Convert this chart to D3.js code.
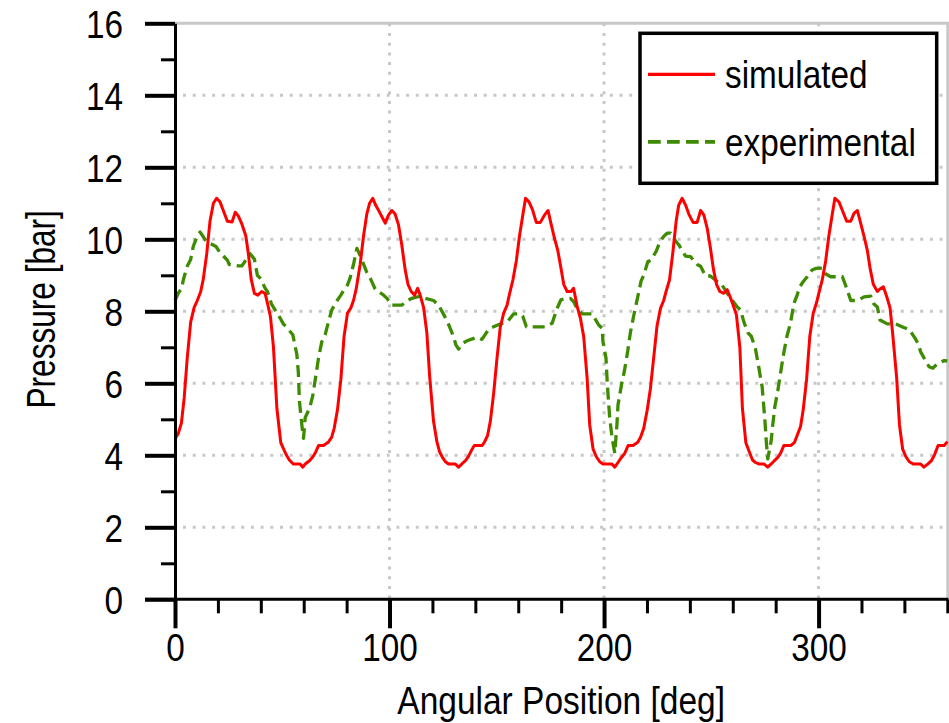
<!DOCTYPE html>
<html>
<head>
<meta charset="utf-8">
<script src="https://cdn.jsdelivr.net/npm/d3@7"></script>
<style>
  html, body { margin: 0; padding: 0; background: #fff; }
  svg { display: block; }
</style>
</head>
<body>
<svg id="chart" width="949" height="723"></svg>
<script>
// Pressure over one revolution: simulated vs. measured, [angle deg, pressure bar]
const simulated = [
  [0,4.45],[1.5,4.6],[3,4.9],[4.3,5.6],[5.7,6.7],[7.3,7.7],[8.9,8.1],[10.4,8.3],[12,8.55],[13.2,8.9],[14.8,9.6],[16.3,10.5],[17.9,11.0],[19.4,11.14],[21,11.04],[22.2,10.85],[24.4,10.5],[26.6,10.48],[28.1,10.75],[29.5,10.65],[31,10.45],[33,10.1],[34.2,9.6],[35.5,8.9],[37,8.5],[38.6,8.45],[40.4,8.55],[42,8.5],[43.2,8.2],[44.5,7.85],[45.9,7.0],[47.5,5.3],[49.3,4.35],[50.8,4.15],[52,4.0],[53.3,3.87],[55.1,3.76],[58.3,3.76],[59.6,3.67],[60.7,3.76],[62.7,3.85],[64.2,3.95],[65.5,4.08],[66.9,4.27],[69.2,4.27],[71.4,4.36],
  [73,4.5],[74.2,4.75],[75.7,5.25],[77.3,6.1],[78.8,7.3],[80.4,7.95],[82,8.1],[83.2,8.3],[84.4,8.6],[86.3,9.3],[87.9,10.1],[89.4,10.7],[90.7,11.0],[92.2,11.14],[93.5,10.95],[95.2,10.77],[96.7,10.6],[98,10.45],[99.5,10.67],[101.1,10.8],[102.6,10.7],[104.2,10.4],[105.7,9.85],[107.3,9.15],[108.6,8.75],[110.1,8.55],[111.7,8.45],[113.1,8.64],[114.3,8.45],[115.9,8.1],[117.4,7.4],[118.7,6.2],[120.5,4.95],[122.1,4.37],[123.3,4.1],[124.9,3.92],[126.1,3.82],[127.5,3.76],[130.6,3.76],[132.2,3.67],[133.7,3.76],[135.4,3.85],[136.8,3.97],[138.3,4.15],[139.5,4.27],[143.1,4.27],[144.2,4.36],
  [145.7,4.55],[147,4.95],[148.5,5.7],[150.1,6.7],[151.6,7.55],[153.2,7.95],[154.8,8.17],[156,8.5],[157.5,8.87],[159.1,9.4],[160.6,10.1],[162.2,10.7],[163.4,11.14],[165,11.04],[166.6,10.83],[168.4,10.47],[170.3,10.47],[172.2,10.67],[173.9,10.8],[175.4,10.4],[176.8,10.05],[178.4,9.7],[179.9,9.2],[181.2,8.75],[182.8,8.55],[184.6,8.55],[185.8,8.64],[187.4,8.15],[189,7.8],[190.5,7.3],[192.1,6.15],[193.3,4.85],[194.9,4.17],[196.4,3.96],[198,3.82],[199.5,3.76],[203.7,3.76],[205,3.67],[206.5,3.8],[208.1,3.94],[209.6,4.05],[211.2,4.27],[213.5,4.27],[215.7,4.36],
  [217,4.5],[218.5,4.75],[220.1,5.25],[221.6,5.85],[223.2,6.75],[224.7,7.6],[226.3,8.08],[227.8,8.3],[228.9,8.55],[230.5,8.87],[232,9.6],[233.6,10.5],[234.8,10.95],[236.4,11.14],[238,10.95],[239.5,10.7],[241.5,10.47],[243.4,10.47],[245,10.8],[246.5,10.68],[248.1,10.3],[249.6,9.75],[250.9,9.2],[252.4,8.75],[254,8.55],[255.8,8.5],[257.4,8.6],[258.9,8.38],[260.2,8.17],[261.7,7.9],[263.3,7.0],[264.5,5.3],[266.1,4.35],[267.7,4.1],[269.2,3.87],[270.6,3.8],[272.1,3.76],[274.5,3.76],[276.3,3.67],[277.9,3.76],[279.4,3.85],[281,3.94],[282.3,4.06],[283.8,4.27],[287,4.27],[288.8,4.36],
  [290,4.55],[291.6,4.8],[292.8,5.25],[294.4,6.1],[295.9,7.3],[297.5,7.95],[299.1,8.25],[300.1,8.5],[301.7,8.87],[303.3,9.4],[304.8,10.1],[306.4,10.7],[307.6,11.14],[309.5,11.04],[311.1,10.8],[313.1,10.5],[315,10.5],[316.5,10.72],[318.1,10.8],[319.6,10.45],[321.2,10.08],[322.7,9.7],[324,9.2],[325.5,8.75],[327.4,8.55],[328.6,8.62],[330.2,8.68],[331.7,8.42],[333.3,8.1],[334.5,7.4],[336.4,6.15],[337.7,4.85],[339.2,4.17],[340.7,3.96],[342.3,3.82],[344.1,3.76],[347.6,3.76],[349.1,3.67],[351,3.76],[352.6,3.85],[354.1,4.02],[355.7,4.27],[358.5,4.27],[360,4.38]
];

const experimental = [
  [0,8.3],[1.5,8.5],[3.1,8.64],[3.9,8.88],[5.7,9.25],[7.3,9.44],[8.5,9.8],[10.4,10.1],[11.7,10.2],[13.2,10.07],[14.8,9.92],[16.3,9.89],[19.1,9.8],[21,9.63],[24.4,9.42],[25.3,9.3],[29.5,9.26],[31.1,9.26],[32.2,9.35],[35,9.6],[37,9.45],[38.4,9.0],[40,8.9],[42,8.64],[43.1,8.55],[45,8.2],[49.3,7.78],[50.5,7.65],[52.1,7.55],[54.9,7.35],[56.8,6.8],[57.5,6.3],[58,5.5],[59.3,4.75],[59.9,4.47],[60.7,5.05],[62.7,5.3],[64.2,5.65],[65.5,6.15],[66.9,6.7],[68.4,7.15],[70,7.35],[71.5,7.7],
  [73.1,8.04],[74.3,8.17],[75.7,8.31],[77.3,8.45],[78.8,8.6],[80.4,8.73],[81.6,8.92],[83.2,9.3],[84.8,9.75],[86.3,9.55],[89.4,9.08],[91,8.92],[93.3,8.62],[97.2,8.45],[98.8,8.36],[101,8.17],[105.7,8.17],[108.4,8.3],[110.4,8.36],[114.3,8.42],[116.6,8.36],[120.5,8.3],[122.9,8.17],[124.9,7.95],[126.4,7.78],[128,7.57],[129.4,7.36],[131,7.06],[132.2,6.95],[133.8,7.1],[136.1,7.18],[140.8,7.28],[143.1,7.22],
  [146.2,7.5],[148.5,7.57],[151.6,7.65],[154.8,7.7],[157.9,7.93],[161,7.93],[162.2,7.85],[163.8,7.57],[164.8,7.57],[172.6,7.57],[175.8,7.67],[176.8,7.85],[178.4,8.12],[179.9,8.32],[182.8,8.36],[184.3,8.36],[185.8,8.27],[187.7,8.04],[189.8,7.93],[194.4,7.93],[197.5,7.62],[199.1,7.53],[199.5,7.15],[200.9,6.7],[201.5,6.0],[202.2,5.4],[202.6,5.07],[203.7,4.5],[205,4.06],[206,4.85],[206.5,5.4],[208.1,5.95],[209.5,6.35],[211,6.88],[212.3,7.42],[213.8,7.87],[215.7,8.4],
  [217.3,8.85],[218.5,9.0],[220.4,9.38],[221.9,9.42],[224.4,9.68],[226,9.93],[227.8,10.08],[229.4,10.17],[231,10.17],[233.4,9.95],[234.8,9.85],[238,9.53],[240.3,9.52],[243.4,9.3],[245,9.25],[247.3,8.98],[249.6,8.98],[252.7,8.83],[254.3,8.8],[257.4,8.5],[258.6,8.4],[262.1,8.12],[263.6,8.04],[265.2,7.7],[267.1,7.4],[268.7,7.3],[270.6,6.95],[272.1,6.45],[273.7,5.9],[275,4.95],[275.6,4.4],[276.3,3.9],[277.9,4.4],[278.5,4.77],[279.6,5.35],[281,5.8],[282.3,6.3],[283.8,6.85],[285.3,7.32],[286.9,7.67],[288.5,8.22],
  [290,8.45],[291.2,8.68],[292.8,8.82],[294.7,8.96],[297,9.15],[298.6,9.19],[301.7,9.2],[303,9.05],[305.6,8.96],[311.1,8.96],[313.1,8.64],[315,8.3],[318.1,8.3],[321.2,8.4],[324.3,8.42],[325.8,8.2],[327.4,8.12],[328.6,7.76],[332,7.65],[335.9,7.65],[339.7,7.55],[342.1,7.5],[344.8,7.27],[346.4,7.1],[347.6,6.87],[351.5,6.46],[353.3,6.42],[355.4,6.55],[358.5,6.63],[360,6.62]
];

const seriesNames = ["simulated", "experimental"];
const seriesColors = ["#ff0000", "#3d8b00"];
const yTicks = [0, 2, 4, 6, 8, 10, 12, 14, 16];
const yMinorTicks = [1, 3, 5, 7, 9, 11, 13, 15];
const xTicks = [0, 100, 200, 300];
const xMinorTicks = [20, 40, 60, 80, 120, 140, 160, 180, 220, 240, 260, 280, 320, 340, 360];
const xTitle = "Angular Position [deg]";
const yTitle = "Pressure [bar]";

const FONT = "'Liberation Sans', Arial, sans-serif";
const FS = 39;       // font size of all labels
const SX = 0.855;    // horizontal condensing of the glyphs

const svg = d3.select("#chart");
svg.append("rect").attr("width", 949).attr("height", 723).attr("fill", "#fff");

const x = d3.scaleLinear().domain([0, 360]).range([175, 947.3]);
const y = d3.scaleLinear().domain([0, 16]).range([599.3, 23.3]);

// dotted grid
const grid = svg.append("g")
  .attr("stroke", "#c8c8c8").attr("stroke-width", 3).attr("stroke-dasharray", "3,6.7");
grid.selectAll("line.h").data(yTicks.filter(v => v > 0 && v < 16)).join("line")
  .attr("class", "h")
  .attr("x1", x(0) + 8).attr("x2", x(360))
  .attr("y1", d => y(d)).attr("y2", d => y(d));
grid.selectAll("line.v").data(xTicks.filter(v => v > 0)).join("line")
  .attr("class", "v")
  .attr("x1", d => x(d)).attr("x2", d => x(d))
  .attr("y1", y(16)).attr("y2", y(0));

// plot frame (top and right)
svg.append("path")
  .attr("d", `M${x(0)},${y(16)}H${x(360) + 0.5}V${y(0)}`)
  .attr("fill", "none").attr("stroke", "#c8c8c8").attr("stroke-width", 3);

// series
const line = d3.line().x(d => x(d[0])).y(d => y(d[1]));
svg.append("path").datum(experimental)
  .attr("d", line).attr("fill", "none")
  .attr("stroke", seriesColors[1]).attr("stroke-width", 3.3)
  .attr("stroke-dasharray", "12,6").attr("stroke-linejoin", "round");
svg.append("path").datum(simulated)
  .attr("d", line).attr("fill", "none")
  .attr("stroke", seriesColors[0]).attr("stroke-width", 3)
  .attr("stroke-linejoin", "round");

// axes
function styleText(sel) {
  sel.attr("font-family", FONT).attr("font-size", FS).attr("fill", "#000");
}

const yAxis = svg.append("g").attr("transform", `translate(${x(0)},0)`)
  .call(d3.axisLeft(y).tickValues(yTicks).tickSize(30).tickSizeOuter(0).tickFormat(d3.format("d")));
yAxis.select(".domain").attr("stroke", "#000").attr("stroke-width", 3);
yAxis.selectAll(".tick line").attr("stroke", "#000").attr("stroke-width", 4);
yAxis.selectAll(".tick text")
  .call(styleText)
  .attr("text-anchor", "end")
  .attr("x", -52 / SX).attr("y", 14).attr("dy", null)
  .attr("transform", `scale(${SX},1)`);

const yMinor = svg.append("g").attr("transform", `translate(${x(0)},0)`)
  .call(d3.axisLeft(y).tickValues(yMinorTicks).tickSize(14).tickSizeOuter(0).tickFormat(""));
yMinor.select(".domain").remove();
yMinor.selectAll(".tick line").attr("stroke", "#000").attr("stroke-width", 3);

const xAxis = svg.append("g").attr("transform", `translate(0,${y(0)})`)
  .call(d3.axisBottom(x).tickValues(xTicks).tickSize(29).tickSizeOuter(0).tickFormat(d3.format("d")));
xAxis.select(".domain").attr("stroke", "#000").attr("stroke-width", 3)
  .attr("d", `M${x(0) - 30},0H${x(360) + 1}`);
xAxis.selectAll(".tick line").attr("stroke", "#000").attr("stroke-width", 4);
xAxis.selectAll(".tick text")
  .call(styleText)
  .attr("text-anchor", "middle")
  .attr("x", 0).attr("y", 61.5).attr("dy", null)
  .attr("transform", `scale(${SX},1)`);

const xMinor = svg.append("g").attr("transform", `translate(0,${y(0)})`)
  .call(d3.axisBottom(x).tickValues(xMinorTicks).tickSize(14).tickSizeOuter(0).tickFormat(""));
xMinor.select(".domain").remove();
xMinor.selectAll(".tick line").attr("stroke", "#000").attr("stroke-width", 3);

// axis titles
svg.append("text")
  .call(styleText)
  .attr("font-size", 38.5)
  .attr("text-anchor", "middle")
  .attr("transform", `translate(${(x(0) + x(360)) / 2},714) scale(0.87,1)`)
  .text(xTitle);

svg.append("text")
  .call(styleText)
  .attr("font-size", 40)
  .attr("text-anchor", "middle")
  .attr("transform", `translate(55,${(y(0) + y(16)) / 2 - 2}) rotate(-90) scale(0.79,1)`)
  .text(yTitle);

// legend
const legend = svg.append("g");
legend.append("rect")
  .attr("x", 640).attr("y", 33.3).attr("width", 296.7).attr("height", 150)
  .attr("fill", "#fff").attr("stroke", "#000").attr("stroke-width", 3.5);
const rows = legend.selectAll("g.item").data(seriesNames).join("g")
  .attr("class", "item")
  .attr("transform", (d, i) => `translate(0,${74.3 + i * 67.5})`);
rows.append("line")
  .attr("x1", 648).attr("x2", 715).attr("y1", 0).attr("y2", 0)
  .attr("stroke", (d, i) => seriesColors[i])
  .attr("stroke-width", (d, i) => i ? 3.7 : 3.3)
  .attr("stroke-dasharray", (d, i) => i ? "12.7,6.3" : null);
rows.append("text")
  .call(styleText)
  .attr("transform", `translate(725,13.7) scale(${SX},1)`)
  .text(d => d);
</script>
</body>
</html>
